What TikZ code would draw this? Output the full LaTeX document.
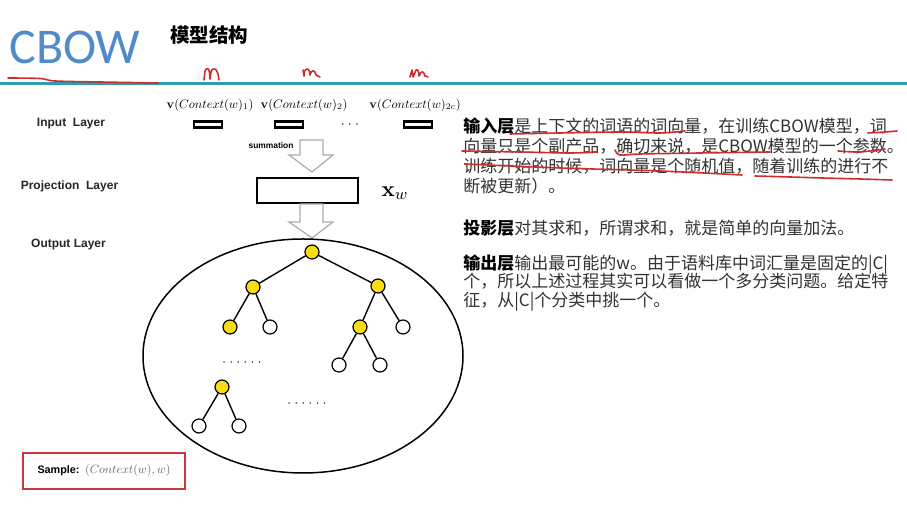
\documentclass[tikz,border=0pt]{standalone}
\usepackage[no-math]{fontspec}
\setmainfont{Liberation Sans}
\newfontfamily\cjk{Noto Sans CJK SC}
\newfontfamily\headfont{Carlito}
\definecolor{cbowblue}{RGB}{79,139,201}
\definecolor{rulecolor}{RGB}{44,158,178}
\definecolor{inkred}{RGB}{205,45,45}
\definecolor{treeyellow}{RGB}{250,220,20}
\definecolor{samplered}{RGB}{200,55,60}
\definecolor{textgray}{RGB}{50,50,50}
% small math set at text design size, then shrunk
\newcommand{\smallmath}[2]{\scalebox{#1}{\fontsize{10}{12}\selectfont$#2$}}
\begin{document}
\begin{tikzpicture}[x=0.5pt,y=-0.5pt,
  layerlabel/.style={font=\fontsize{6}{7}\selectfont\bfseries, text=black!85, inner sep=0},
  ctxlabel/.style={inner sep=0},
  vecbox/.style={draw, line width=1.1pt, minimum width=14pt, minimum height=3pt, inner sep=0},
  hnode/.style={circle, draw, line width=0.6pt, minimum size=7pt, inner sep=0},
  onpath/.style={hnode, fill=treeyellow},
  offpath/.style={hnode, fill=white},
  branch/.style={line width=0.7pt},
  hollow/.style={draw=gray!65, fill=white, line width=0.6pt, line join=miter},
  ink/.style={draw=inkred, line width=0.8pt, line cap=round, line join=round},
  body/.style={anchor=base west, inner sep=0, font=\cjk\fontsize{8.5}{10}\selectfont, text=textgray},
  dotsrow/.style={font=\fontsize{6}{7}\selectfont, inner sep=0}
]
\useasboundingbox (0,0) rectangle (907,522);
\fill[white] (0,0) rectangle (907,522);

% ---- title bar ----
\node[anchor=base west, inner sep=0, text=cbowblue,
      font=\headfont\fontsize{25}{30}\selectfont] (title) at (9,64) {CBOW};
\node[anchor=base west, inner sep=0, font=\cjk\bfseries\fontsize{9.75}{12}\selectfont] (subtitle) at (170,43) {模型结构};
\draw[rulecolor, line width=1.5pt] (0,84) -- (907,84);

% hand-drawn red marks near the title
\draw[ink] plot[smooth] coordinates {(8,78) (40,78.5) (55,81) (100,82) (158,83)};
\draw[ink] (204,80) -- (205,71) .. controls (207,66) and (210,68) .. (210,79)
           -- (211,72) .. controls (213,66) and (218,68) .. (219,80);
\draw[ink] (303,70) -- (304,76) -- (304.5,71) .. controls (307,67) and (310,69) .. (310,75)
           .. controls (311,70) and (315,69) .. (316,75) -- (320,77);
\draw[ink] (410,77) -- (412,70) -- (413,77) -- (416,70) .. controls (418,69) and (419,72) .. (419,76)
           .. controls (421,70) and (424,71) .. (425,76) -- (428,77);

% ---- layer labels ----
\node[layerlabel] (inlab) at (71,124) {Input\ \ Layer};
\node[layerlabel] (projlab) at (69.5,186) {Projection\ \ Layer};
\node[layerlabel] (outlab) at (68.5,245) {Output Layer};

% ---- input layer ----
\node[ctxlabel] (c1) at (210,105) {\smallmath{0.62}{\mathbf{v}(Context(w)_1)}};
\node[ctxlabel] (c2) at (304,105) {\smallmath{0.62}{\mathbf{v}(Context(w)_2)}};
\node[ctxlabel] (c3) at (415,105) {\smallmath{0.62}{\mathbf{v}(Context(w)_{2c})}};
\node[vecbox] (b1) at (208,124.5) {};
\node[vecbox] (b2) at (289,124.5) {};
\node[vecbox] (b3) at (418,124.5) {};
\node[dotsrow] (bdots) at (350,125) {$\cdots$};

% ---- summation arrow and projection layer ----
\draw[hollow] (300,140) -- (323,140) -- (323,155) -- (333,155) -- (312,172)
              -- (289,155) -- (300,155) -- cycle;
\node[font=\fontsize{4.2}{5}\selectfont\bfseries, inner sep=0] (sumlab) at (271,146) {summation};
\node[draw, line width=1.2pt, minimum width=50.5pt, minimum height=12.5pt, inner sep=0] (proj) at (307.5,190.5) {};
\node[font=\fontsize{11}{13}\selectfont, inner sep=0] (xw) at (395,193) {$\mathbf{x}_w$};
\draw[hollow] (300,204) -- (323,204) -- (323,222) -- (333,222) -- (312,238)
              -- (289,222) -- (300,222) -- cycle;

% ---- output layer: Huffman tree ----
\draw[line width=0.75pt] (303,356) ellipse [x radius=80pt, y radius=58.5pt];
\node[onpath]  (root) at (312,252) {};
\node[onpath]  (l1)   at (253,287) {};
\node[onpath]  (r1)   at (378,286) {};
\node[onpath]  (ll)   at (230,327) {};
\node[offpath] (lr)   at (270,327) {};
\node[onpath]  (rl)   at (360,327) {};
\node[offpath] (rr)   at (403,327) {};
\node[offpath] (rll)  at (339,365) {};
\node[offpath] (rlr)  at (380,365) {};
\node[onpath]  (bt)   at (222,387) {};
\node[offpath] (btl)  at (199,426) {};
\node[offpath] (btr)  at (239,426) {};
\foreach \a/\b in {root/l1, root/r1, l1/ll, l1/lr, r1/rl, r1/rr, rl/rll, rl/rlr, bt/btl, bt/btr}
  \draw[branch] (\a) -- (\b);
\node[dotsrow] (tdots1) at (242,363) {$\cdots\cdots$};
\node[dotsrow] (tdots2) at (307,404) {$\cdots\cdots$};

% ---- sample box ----
\node[draw=samplered, line width=1pt, minimum width=81pt, minimum height=18pt, inner sep=0] (sample) at (104,471)
  {{\fontsize{5.4}{7}\selectfont\bfseries Sample:}\ \textcolor{black!60}{\smallmath{0.6}{(Context(w),w)}}};

% ---- explanation text ----
\node[body] (t1) at (463,133) {{\cjk\bfseries\color{black}输入层}是上下文的词语的词向量，在训练CBOW模型，词};
\node[body] (t2) at (463,152.5) {向量只是个副产品，确切来说，是CBOW模型的一个参数。};
\node[body] (t3) at (463,173) {训练开始的时候，词向量是个随机值，随着训练的进行不};
\node[body] (t4) at (463,193) {断被更新）。};
\node[body] (t5) at (463,235) {{\cjk\bfseries\color{black}投影层}对其求和，所谓求和，就是简单的向量加法。};
\node[body] (t6) at (463,270) {{\cjk\bfseries\color{black}输出层}输出最可能的w。由于语料库中词汇量是固定的|C|};
\node[body] (t7) at (463,288) {个，所以上述过程其实可以看做一个多分类问题。给定特};
\node[body] (t8) at (463,307) {征，从|C|个分类中挑一个。};

% hand-drawn red underlines over the text
\draw[ink] plot[smooth] coordinates {(510,134) (560,133) (620,132) (660,133) (685,131)};
\draw[ink] plot[smooth] coordinates {(868,133) (885,132) (897,131)};
\draw[ink] plot[smooth] coordinates {(462,151) (520,152) (570,153) (597,152)};
\draw[ink] plot[smooth] coordinates {(615,150) (620,155) (640,154) (700,153) (770,152)};
\draw[ink] plot[smooth] coordinates {(838,151) (860,152) (885,149)};
\draw[ink] plot[smooth] coordinates {(465,164) (560,168) (660,171) (742,175)};
\draw[ink] plot[smooth] coordinates {(755,176) (790,177) (822,178) (860,179) (892,180)};
\end{tikzpicture}
\end{document}
